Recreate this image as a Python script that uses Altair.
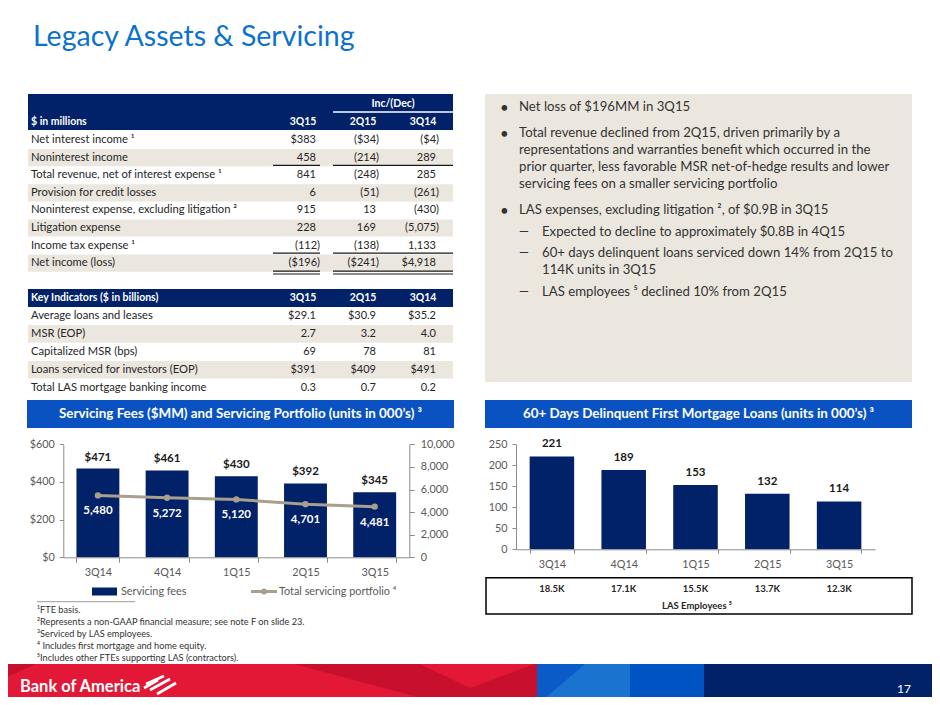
import altair as alt
import pandas as pd

# ---------------- data ----------------
TITLE = "Legacy Assets & Servicing"

T1_HEADER = "$ in millions"
T1_GROUP = "Inc/(Dec)"
T1_COLS = ["3Q15", "2Q15", "3Q14"]
T1_LABELS = ["Net interest income ¹", "Noninterest income",
             "Total revenue, net of interest expense ¹", "Provision for credit losses",
             "Noninterest expense, excluding litigation ²", "Litigation expense",
             "Income tax expense ¹", "Net income (loss)"]
T1_3Q15 = ["$383", "458", "841", "6", "915", "228", "(112)", "($196)"]
T1_2Q15 = ["($34)", "(214)", "(248)", "(51)", "13", "169", "(138)", "($241)"]
T1_3Q14 = ["($4)", "289", "285", "(261)", "(430)", "(5,075)", "1,133", "$4,918"]

T2_HEADER = "Key Indicators ($ in billions)"
T2_LABELS = ["Average loans and leases", "MSR (EOP)", "Capitalized MSR (bps)",
             "Loans serviced for investors (EOP)", "Total LAS mortgage banking income"]
T2_3Q15 = ["$29.1", "2.7", "69", "$391", "0.3"]
T2_2Q15 = ["$30.9", "3.2", "78", "$409", "0.7"]
T2_3Q14 = ["$35.2", "4.0", "81", "$491", "0.2"]

BULLETS = [
    ("bullet", ["Net loss of $196MM in 3Q15"]),
    ("bullet", ["Total revenue declined from 2Q15, driven primarily by a",
                "representations and warranties benefit which occurred in the",
                "prior quarter, less favorable MSR net-of-hedge results and lower",
                "servicing fees on a smaller servicing portfolio"]),
    ("bullet", ["LAS expenses, excluding litigation ², of $0.9B in 3Q15"]),
    ("dash", ["Expected to decline to approximately $0.8B in 4Q15"]),
    ("dash", ["60+ days delinquent loans serviced down 14% from 2Q15 to",
              "114K units in 3Q15"]),
    ("dash", ["LAS employees ⁵ declined 10% from 2Q15"]),
]

CHART1_TITLE = "Servicing Fees ($MM) and Servicing Portfolio (units in 000’s) ³"
CHART2_TITLE = "60+ Days Delinquent First Mortgage Loans (units in 000’s) ³"

QUARTERS = ["3Q14", "4Q14", "1Q15", "2Q15", "3Q15"]
SERVICING_FEES = [471, 461, 430, 392, 345]
SERVICING_PORTFOLIO = [5480, 5272, 5120, 4701, 4481]
DELINQUENT = [221, 189, 153, 132, 114]
LAS_EMPLOYEES = ["18.5K", "17.1K", "15.5K", "13.7K", "12.3K"]

LEGEND_FEES = "Servicing fees"
LEGEND_PORT = "Total servicing portfolio ⁴"
EMP_LABEL = "LAS Employees ⁵"

FOOTNOTES = ["¹FTE basis.",
             "²Represents a non-GAAP financial measure; see note F on slide 23.",
             "³Serviced by LAS employees.",
             "⁴ Includes first mortgage and home equity.",
             "⁵Includes other FTEs supporting LAS (contractors)."]
BRAND = "Bank of America"
PAGE = "17"

# ---------------- style ----------------
W, H = 924, 689
OFF = 8
FONT = "Lato"
NAVY = "#012169"
HDR_BLUE = "#0A52C2"
TITLE_BLUE = "#0B72CE"
BEIGE = "#EBE7DF"
RED = "#E31837"
DARK_RED = "#C8102E"
TAN = "#A89F8C"
AXIS_GRAY = "#8C8C8C"
LABEL_GRAY = "#595959"
TEXT = "#262626"


def XS():
    return alt.Scale(domain=[OFF, OFF + W], range=[0, W], nice=False, zero=False)


def YS():
    return alt.Scale(domain=[OFF, OFF + H], range=[0, H], nice=False, zero=False)


def cx(f="x"):
    return alt.X(f + ":Q", scale=XS(), axis=None)


def cy(f="y"):
    return alt.Y(f + ":Q", scale=YS(), axis=None)


def texts(rows, **mk):
    df = pd.DataFrame(rows, columns=["x", "y", "t"])
    base = dict(font=FONT, baseline="middle")
    base.update(mk)
    return alt.Chart(df).mark_text(**base).encode(x=cx(), y=cy(), text="t:N")


def rects(rows, **mk):
    df = pd.DataFrame(rows, columns=["x", "x2", "y", "y2", "c"])
    return alt.Chart(df).mark_rect(**mk).encode(
        x=cx(), x2="x2:Q", y=cy(), y2="y2:Q", color=alt.Color("c:N", scale=None))


def rules(rows, **mk):
    df = pd.DataFrame(rows, columns=["x", "x2", "y", "y2"])
    return alt.Chart(df).mark_rule(**mk).encode(x=cx(), x2="x2:Q", y=cy(), y2="y2:Q")


def area(xs, tops, bots, color):
    df = pd.DataFrame({"x": xs, "y": tops, "y2": bots})
    return alt.Chart(df).mark_area(color=color, interpolate="linear").encode(
        x=cx(), y=cy(), y2="y2:Q")


layers = []

# ---- background blocks ----
fills = [
    (28, 453, 94, 130, NAVY),            # table 1 header
    (28, 453, 289, 307, NAVY),           # table 2 header
    (485, 912, 94, 382, BEIGE),          # bullet box
    (27, 454, 400, 428, HDR_BLUE),       # chart 1 header
    (485, 912, 400, 428, HDR_BLUE),      # chart 2 header
    (0, 537, 664, 705, RED),             # footer
    (537, 630, 664, 705, "#1A73CF"),
    (630, 704, 664, 705, "#0053C2"),
    (704, 940, 664, 705, NAVY),
]
T1_Y = [140 + i * 17.6 for i in range(len(T1_LABELS))]
T2_Y = [316 + i * 17.9 for i in range(len(T2_LABELS))]
for i, y in enumerate(T1_Y):
    if i % 2 == 1:
        fills.append((28, 453, y - 8.6, y + 8.6, BEIGE))
for i, y in enumerate(T2_Y):
    if i % 2 == 1:
        fills.append((28, 453, y - 8.8, y + 8.8, BEIGE))
layers.append(rects(fills))

# footer accents
layers.append(area([294, 447, 537], [664, 664, 664], [664, 705, 705], DARK_RED))
layers.append(area([420, 470, 534], [664, 664, 664], [664, 688, 664], RED))
layers.append(area([0, 36], [664, 664], [680, 664], DARK_RED))
layers.append(area([537, 585], [664, 664], [705, 664], "#0A5AC8"))

# ---- table lines ----
tl = []
for y in [165.3, 253.2, 271.2, 274.0]:
    tl.append((273, 320, y, y))
    tl.append((333, 453, y, y))
layers.append(rules(tl, color="#1a1a1a", strokeWidth=1.2))
layers.append(rules([(333, 453, 112, 112)], color="white", strokeWidth=1.5))
layers.append(rules([(37, 135, 601.7, 601.7)], color="#7f7f7f", strokeWidth=0.8))

# ---- title ----
layers.append(texts([(33, 37, TITLE)], fontSize=28.5, color=TITLE_BLUE, align="left"))

# ---- table headers ----
COLC = [303, 363, 423]
hdr = [(393, 103.5, T1_GROUP)] + [(c, 122, t) for c, t in zip(COLC, T1_COLS)] \
      + [(c, 298, t) for c, t in zip(COLC, T1_COLS)]
layers.append(texts(hdr, fontSize=10.5, fontWeight="bold", color="white", align="center"))
layers.append(texts([(31, 122, T1_HEADER), (31, 298, T2_HEADER)], fontSize=10.5,
                    fontWeight="bold", color="white", align="left"))

# ---- table bodies ----
lab = [(31, y, t) for y, t in zip(T1_Y, T1_LABELS)] + [(31, y, t) for y, t in zip(T2_Y, T2_LABELS)]
layers.append(texts(lab, fontSize=11.2, color=TEXT, align="left"))
RIGHT_P = [320, 379, 439]
RIGHT_N = [316, 376, 436]
vals = []
for j, col in enumerate([T1_3Q15, T1_2Q15, T1_3Q14]):
    for y, v in zip(T1_Y, col):
        vals.append((RIGHT_P[j] if v.endswith(")") else RIGHT_N[j], y, v))
for j, col in enumerate([T2_3Q15, T2_2Q15, T2_3Q14]):
    for y, v in zip(T2_Y, col):
        vals.append((RIGHT_N[j], y, v))
layers.append(texts(vals, fontSize=11, color=TEXT, align="right"))

# ---- bullets ----
brows, mrows, drows = [], [], []
y = 106.7
gaps = {"bullet": 8.7, "dash": 4.2}
first = True
for kind, lines in BULLETS:
    if not first:
        y += gaps[kind] + 17.2
    first = False
    if kind == "bullet":
        mrows.append((500, y + 1, "•"))
        tx = 519
    else:
        drows.append((519, y, "—"))
        tx = 542
    for k, ln in enumerate(lines):
        if k > 0:
            y += 17.2
        brows.append((tx, y, ln))
layers.append(texts(brows, fontSize=13.2, color="#333333", align="left"))
layers.append(texts(mrows, fontSize=15, color="#333333", align="left"))
layers.append(texts(drows, fontSize=12.5, color="#333333", align="left"))

# ---- chart headers ----
layers.append(texts([(240.5, 414, CHART1_TITLE), (698.5, 414, CHART2_TITLE)],
                    fontSize=13.4, fontWeight="bold", color="white", align="center"))

# ---- legend ----
layers.append(rects([(92, 117, 587.5, 595.5, NAVY)]))
layers.append(rules([(251, 277, 591.5, 591.5)], color=TAN, strokeWidth=3))
layers.append(alt.Chart(pd.DataFrame({"x": [264], "y": [591.5]})).mark_circle(
    size=36, color=TAN, opacity=1).encode(x=cx(), y=cy()))
layers.append(texts([(121, 591.5, LEGEND_FEES), (279, 591.5, LEGEND_PORT)],
                    fontSize=10.8, color=LABEL_GRAY, align="left"))

# ---- employees box ----
layers.append(rects([(486, 912, 577.7, 614, "white")], stroke="black", strokeWidth=1.5,
                    fillOpacity=0))
layers.append(texts([(697, 605.7, EMP_LABEL)], fontSize=9.5, fontWeight="bold",
                    color=TEXT, align="center"))

# ---- footnotes ----
fy = [610, 622, 634, 646, 658]
layers.append(texts([(37, y, t) for y, t in zip(fy, FOOTNOTES)], fontSize=9.2,
                    color="#333333", align="left"))

# ---- footer ----
layers.append(texts([(20, 687, BRAND)], fontSize=16.5, fontWeight="bold", color="white",
                    align="left"))
layers.append(texts([(904, 689, PAGE)], fontSize=12, color="white", align="center"))
flag = [(158, 144, 680, 688), (170, 150, 679, 690), (176, 157, 683, 694),
        (164, 146, 676, 684)]
layers.append(rules(flag, color="white", strokeWidth=2.6))

# ---------------- chart 1: servicing fees + portfolio ----------------
axis_common = dict(domainColor=AXIS_GRAY, tickColor=AXIS_GRAY, labelColor=LABEL_GRAY,
                   labelFont=FONT, labelFontSize=10.8, grid=False, title=None,
                   domainWidth=1, tickWidth=1, zindex=1)

serv_df = pd.DataFrame({"q": QUARTERS, "fees": SERVICING_FEES, "port": SERVICING_PORTFOLIO})
serv_df["fee_lbl"] = ["$" + str(v) for v in SERVICING_FEES]
serv_df["port_lbl"] = [f"{v:,}" for v in SERVICING_PORTFOLIO]


def x1s():
    return alt.Scale(domain=QUARTERS, range=[63.3 - OFF, 409.3 - OFF],
                     paddingInner=0.38, paddingOuter=0.19)


def yfs():
    return alt.Scale(domain=[0, 600], range=[557.3 - OFF, 444.3 - OFF], nice=False)


def yps():
    return alt.Scale(domain=[0, 10000], range=[557.3 - OFF, 444.3 - OFF], nice=False)


x1 = alt.X("q:N", scale=x1s(),
           axis=alt.Axis(orient="bottom", offset=-(H - (557.3 - OFF)), labelAngle=0,
                         tickBand="extent", tickSize=5, labelPadding=4, **axis_common))
x1n = alt.X("q:N", scale=x1s(), axis=None)
yfees = alt.Y("fees:Q", scale=yfs(),
              axis=alt.Axis(orient="left", offset=-(63.3 - OFF), values=[0, 200, 400, 600],
                            format="$,.0f", tickSize=4, labelPadding=5, **axis_common))
yfees_n = alt.Y("fees:Q", scale=yfs(), axis=None)
yport = alt.Y("port:Q", scale=yps(),
              axis=alt.Axis(orient="right", offset=-(W - (409.3 - OFF)),
                            values=[0, 2000, 4000, 6000, 8000, 10000], format=",d",
                            tickSize=5, labelPadding=6, **axis_common))
yport_n = alt.Y("port:Q", scale=yps(), axis=None)

base1 = alt.Chart(serv_df)
layers.append(base1.mark_bar(color=NAVY).encode(x=x1, y=yfees))
layers.append(base1.mark_text(font=FONT, fontSize=11.5, fontWeight="bold", color="#1a1a1a",
                              dy=-11, baseline="middle").encode(x=x1n, y=yfees_n, text="fee_lbl:N"))
layers.append(base1.mark_line(color=TAN, strokeWidth=3).encode(x=x1n, y=yport))
layers.append(base1.mark_circle(color=TAN, size=40, opacity=1).encode(x=x1n, y=yport_n))
layers.append(base1.mark_text(font=FONT, fontSize=11.5, fontWeight="bold", color="white",
                              dy=16, baseline="middle").encode(x=x1n, y=yport_n, text="port_lbl:N"))

# ---------------- chart 2: delinquent loans ----------------
del_df = pd.DataFrame({"q": QUARTERS, "v": DELINQUENT, "emp": LAS_EMPLOYEES})


def x2s():
    return alt.Scale(domain=QUARTERS, range=[516 - OFF, 875 - OFF],
                     paddingInner=0.38, paddingOuter=0.19)


def y2s():
    return alt.Scale(domain=[0, 250], range=[549.3 - OFF, 444.3 - OFF], nice=False)


x2 = alt.X("q:N", scale=x2s(),
           axis=alt.Axis(orient="bottom", offset=-(H - (549.3 - OFF)), labelAngle=0,
                         tickBand="extent", tickSize=4, labelPadding=5, **axis_common))
x2n = alt.X("q:N", scale=x2s(), axis=None)
y2 = alt.Y("v:Q", scale=y2s(),
           axis=alt.Axis(orient="left", offset=-(516 - OFF), values=[0, 50, 100, 150, 200, 250],
                         tickSize=4, labelPadding=5, **axis_common))
y2n = alt.Y("v:Q", scale=y2s(), axis=None)
base2 = alt.Chart(del_df)
layers.append(base2.mark_bar(color=NAVY).encode(x=x2, y=y2))
layers.append(base2.mark_text(font=FONT, fontSize=11.5, fontWeight="bold", color="#1a1a1a",
                              dy=-12, baseline="middle").encode(x=x2n, y=y2n, text="v:Q"))
layers.append(base2.mark_text(font=FONT, fontSize=9.5, fontWeight="bold", color=TEXT,
                              baseline="middle").encode(x=x2n, y=alt.value(589.3 - OFF),
                                                        text="emp:N"))

chart = alt.layer(*layers).resolve_scale(
    x="independent", y="independent"
).properties(
    width=W, height=H, padding=0,
    autosize=alt.AutoSizeParams(type="none"),
    background="white",
).configure(font=FONT).configure_view(stroke=None)

chart.save("out.html", embed_options={"renderer": "svg", "actions": False})
